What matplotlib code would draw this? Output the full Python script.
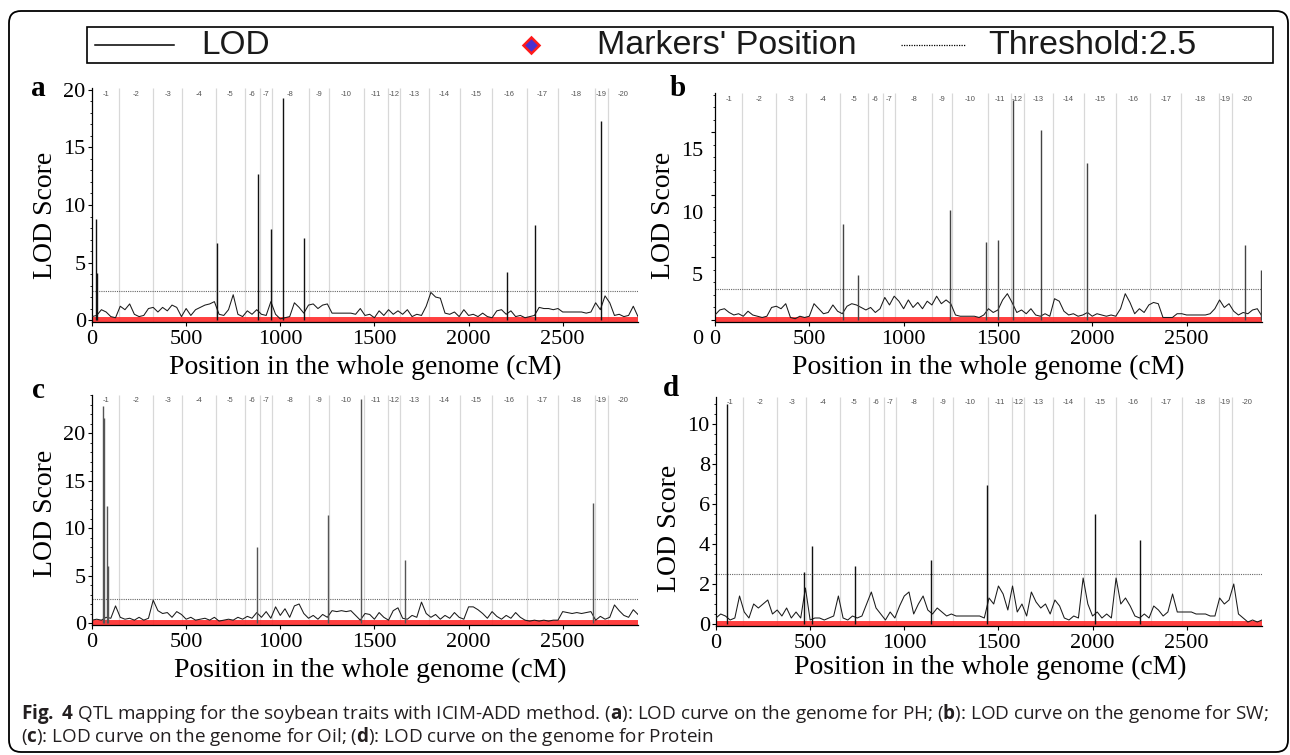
import matplotlib
matplotlib.use('Agg')
import matplotlib.pyplot as plt
from matplotlib.patches import FancyBboxPatch, Rectangle
from matplotlib.ticker import MultipleLocator
from matplotlib.transforms import ScaledTranslation

# ---- data ----
# sampling positions along the genome (cM)
POS = [0, 25, 50, 75, 100, 125, 150, 175, 200, 225, 250, 275, 300, 325, 350, 375, 400, 425,
       450, 475, 500, 525, 550, 575, 600, 625, 650, 675, 700, 725, 750, 775, 800, 825, 850,
       875, 900, 925, 950, 975, 1000, 1025, 1050, 1075, 1100, 1125, 1150, 1175, 1200, 1225,
       1250, 1275, 1300, 1325, 1350, 1375, 1400, 1425, 1450, 1475, 1500, 1525, 1550, 1575,
       1600, 1625, 1650, 1675, 1700, 1725, 1750, 1775, 1800, 1825, 1850, 1875, 1900, 1925,
       1950, 1975, 2000, 2025, 2050, 2075, 2100, 2125, 2150, 2175, 2200, 2225, 2250, 2275,
       2300, 2325, 2350, 2375, 2400, 2425, 2450, 2475, 2500, 2525, 2550, 2575, 2600, 2625,
       2650, 2675, 2700, 2725, 2750, 2775, 2800, 2825, 2850, 2875, 2900]

PH_LOD = [0.3, 0.4, 0.9, 0.7, 0.3, 0.2, 1.2, 0.9, 1.4, 0.5,
          0.3, 0.4, 1.0, 1.1, 0.7, 1.1, 0.8, 1.3, 1.1, 0.3,
          1.0, 0.4, 0.9, 1.1, 1.3, 1.4, 1.6, 0.5, 0.4, 0.9,
          2.2, 0.5, 0.3, 0.8, 0.5, 0.9, 0.5, 0.4, 1.6, 0.5,
          0.1, 0.2, 0.3, 1.5, 1.1, 0.6, 1.3, 1.4, 1.0, 1.3,
          1.4, 0.6, 0.6, 0.6, 0.6, 0.6, 0.5, 1.0, 0.4, 0.5,
          0.2, 0.8, 0.4, 0.9, 0.5, 0.8, 0.5, 0.9, 0.3, 0.5,
          0.4, 1.2, 2.4, 2.0, 1.9, 0.6, 0.5, 0.7, 0.3, 0.9,
          0.4, 0.5, 0.3, 0.6, 0.3, 0.2, 0.8, 0.9, 0.5, 0.8,
          0.3, 0.4, 0.2, 0.3, 0.4, 1.1, 1.0, 1.0, 0.9, 1.0,
          0.7, 0.7, 0.7, 0.7, 0.7, 0.6, 0.7, 1.5, 0.9, 2.1,
          1.5, 0.4, 0.5, 0.3, 0.4, 1.2, 0.3]

SW_LOD = [0.4, 0.8, 0.9, 0.6, 0.4, 0.5, 0.3, 0.7, 0.4, 0.3,
          0.2, 0.3, 1.0, 1.1, 0.9, 1.3, 0.2, 0.1, 0.3, 0.2,
          0.3, 1.3, 0.9, 0.5, 0.6, 1.2, 0.7, 0.5, 1.1, 1.3,
          1.2, 1.0, 0.8, 1.0, 0.6, 0.9, 1.8, 1.2, 1.9, 1.5,
          0.9, 1.6, 1.0, 1.4, 0.9, 1.5, 1.2, 1.9, 1.3, 1.6,
          1.3, 0.4, 0.3, 0.3, 0.3, 0.3, 0.2, 0.4, 0.9, 0.6,
          0.8, 1.6, 2.1, 1.4, 0.6, 0.8, 0.5, 0.9, 0.4, 0.3,
          0.5, 0.3, 1.7, 1.5, 0.7, 0.4, 0.5, 0.3, 0.4, 0.6,
          0.3, 0.5, 0.4, 0.3, 0.4, 0.3, 0.9, 2.1, 1.4, 0.5,
          0.9, 0.6, 1.2, 1.4, 1.3, 0.2, 0.2, 0.2, 0.5, 0.5,
          0.4, 0.4, 0.4, 0.4, 0.4, 0.5, 0.9, 1.6, 1.0, 1.3,
          0.7, 0.4, 0.6, 0.5, 0.8, 0.9, 0.3]

OIL_LOD = [0.3, 0.4, 0.3, 0.6, 0.5, 1.8, 0.6, 0.4, 0.5, 0.3,
           0.6, 0.3, 0.5, 2.4, 1.3, 1.0, 1.1, 0.6, 1.2, 0.9,
           0.4, 0.6, 0.3, 0.4, 0.5, 0.3, 0.6, 0.2, 0.3, 0.4,
           0.3, 0.6, 0.4, 0.7, 0.5, 1.1, 0.6, 1.2, 0.5, 1.7,
           0.8, 1.5, 0.6, 1.8, 2.0, 1.0, 0.5, 0.8, 0.4, 0.9,
           0.6, 1.3, 1.2, 1.3, 1.2, 1.3, 0.8, 0.3, 1.0, 0.9,
           0.4, 1.1, 0.6, 0.3, 1.3, 1.6, 0.5, 0.4, 0.8, 0.6,
           2.2, 1.0, 0.6, 0.9, 0.4, 0.8, 0.5, 1.1, 0.6, 0.4,
           1.7, 1.7, 1.4, 1.0, 0.5, 1.2, 0.7, 0.4, 0.8, 0.5,
           1.1, 0.6, 0.3, 0.2, 0.3, 0.2, 0.3, 0.2, 0.3, 0.3,
           1.2, 1.1, 1.0, 1.1, 1.0, 1.1, 1.2, 0.3, 0.7, 0.4,
           0.6, 1.9, 1.3, 0.8, 0.6, 1.4, 0.9]

PROTEIN_LOD = [0.3, 0.5, 0.4, 0.2, 0.3, 1.4, 0.6, 0.3, 1.0, 0.8,
               1.0, 1.2, 0.5, 0.7, 0.4, 0.8, 0.3, 0.6, 0.3, 1.8,
               0.2, 0.3, 0.3, 0.2, 0.3, 0.4, 1.4, 0.3, 0.2, 0.4,
               0.3, 0.4, 1.0, 1.6, 0.8, 0.5, 0.2, 0.6, 0.3, 0.9,
               1.4, 1.6, 0.5, 1.0, 1.4, 0.7, 0.5, 0.8, 0.6, 0.4,
               0.5, 0.4, 0.4, 0.4, 0.4, 0.4, 0.4, 0.3, 1.3, 1.0,
               1.9, 1.5, 0.7, 1.9, 0.6, 1.0, 0.4, 1.6, 1.1, 0.8,
               1.0, 0.5, 1.2, 0.9, 0.3, 0.2, 0.4, 0.3, 2.3, 1.0,
               0.4, 0.6, 0.3, 0.5, 0.3, 2.3, 1.0, 1.3, 0.9, 0.4,
               0.3, 0.5, 0.3, 0.9, 0.7, 0.4, 0.6, 1.5, 0.6, 0.6,
               0.6, 0.6, 0.5, 0.5, 0.5, 0.4, 0.4, 1.3, 1.0, 1.2,
               2.0, 0.5, 0.3, 0.1, 0.2, 0.1, 0.2]

# sharp QTL peaks (position cM, LOD)
PH_PEAK_POS = [22, 29, 665, 883, 953, 1015, 1125, 2204, 2352, 2704]
PH_PEAK_LOD = [8.8, 4.1, 6.7, 12.7, 7.9, 19.3, 7.1, 4.2, 8.3, 17.3]
SW_PEAK_POS = [681, 758, 1248, 1439, 1498, 1582, 1729, 1970, 2812, 2893]
SW_PEAK_LOD = [7.7, 3.6, 8.8, 6.25, 6.4, 17.6, 15.2, 12.5, 6.0, 4.0]
OIL_PEAK_POS = [57, 62, 79, 84, 876, 1251, 1427, 1663, 2660]
OIL_PEAK_LOD = [22.8, 21.6, 12.3, 6.0, 8.0, 11.4, 23.6, 6.6, 12.6]
PROTEIN_PEAK_POS = [59, 467, 511, 736, 1143, 1438, 2013, 2250]
PROTEIN_PEAK_LOD = [11.0, 2.6, 3.9, 2.9, 3.2, 6.95, 5.5, 4.2]

# chromosome boundaries (cM) and names
CHROM_BOUNDS = [0, 145, 326, 480, 661, 810, 892, 954, 1152, 1257, 1445, 1570, 1636,
                1790, 1955, 2125, 2308, 2473, 2671, 2742, 2900]
CHROM_NAMES = ['-%d' % i for i in range(1, 21)]

THRESHOLD = 2.5
XTICKS = [0, 500, 1000, 1500, 2000, 2500]

TRAITS = ['PH', 'SW', 'Oil', 'Protein']
LETTERS = ['a', 'b', 'c', 'd']
LODS = [PH_LOD, SW_LOD, OIL_LOD, PROTEIN_LOD]
PEAK_POS = [PH_PEAK_POS, SW_PEAK_POS, OIL_PEAK_POS, PROTEIN_PEAK_POS]
PEAK_LOD = [PH_PEAK_LOD, SW_PEAK_LOD, OIL_PEAK_LOD, PROTEIN_PEAK_LOD]

# ---- layout (pixels) ----
W, H = 1290, 755
SERIF = 'Liberation Serif'
SANS = 'Liberation Sans'

plt.rcParams['mathtext.fontset'] = 'custom'
plt.rcParams['mathtext.rm'] = 'Open Sans'
plt.rcParams['mathtext.bf'] = 'Open Sans:bold'

panels = [
    dict(box=(92, 88, 638, 322), ylim=(-0.17, 20.17), yticks=[0, 5, 10, 15, 20], minor=1,
         letter_xy=(38, 88), trait_xy=(101, 116), ylab=(45, 215), xlab=(365, 367),
         peak_color='#111111', label_shift=0, ypad=1.5),
    dict(box=(715, 93, 1262, 322), ylim=(-0.16, 18.12), yticks=[0, 5, 10, 15], minor=1,
         letter_xy=(678, 88), trait_xy=(725, 120), ylab=(663, 215), xlab=(988, 367),
         peak_color='#444444', label_shift=17, ypad=5.5),
    dict(box=(92, 395, 638, 625), ylim=(-0.21, 24.0), yticks=[0, 5, 10, 15, 20], minor=1,
         letter_xy=(38, 390), trait_xy=(124, 432), ylab=(45, 513), xlab=(370, 670),
         peak_color='#555555', label_shift=0, ypad=1.5),
    dict(box=(716, 397, 1262, 626), ylim=(-0.1, 11.35), yticks=[0, 2, 4, 6, 8, 10], minor=0.5,
         letter_xy=(671, 389), trait_xy=(741, 428), ylab=(670, 528), xlab=(990, 667),
         peak_color='#111111', label_shift=0, ypad=1.5),
]

fig = plt.figure(figsize=(W / 100, H / 100), dpi=100)

# background overlay in pixel coordinates (frame, legend, caption)
bg = fig.add_axes([0, 0, 1, 1])
bg.set_xlim(0, W)
bg.set_ylim(H, 0)
bg.axis('off')
bg.patch.set_alpha(0)

bg.add_patch(FancyBboxPatch((9, 11), 1279, 741, boxstyle='round,pad=0,rounding_size=12',
                            fc='none', ec='black', lw=1.3))

# legend box
bg.add_patch(Rectangle((87, 27), 1186, 36, fc='white', ec='black', lw=1.2))
bg.plot([95, 174], [45, 45], color='black', lw=1.1)
bg.text(201, 46, 'LOD', fontsize=24, family=SANS, color='#1a1a1a', va='center')
bg.plot([531], [45], marker='D', ms=8, mfc='#4a2fd0', mec='#ff1a1a', mew=1.8)
bg.text(597, 46, "Markers' Position", fontsize=24.5, family=SANS, color='#1a1a1a', va='center')
bg.plot([901, 965], [45, 45], color='black', lw=0.9, ls=(0, (1, 1)))
bg.text(988, 46, 'Threshold:2.5', fontsize=24.5, family=SANS, color='#1a1a1a', va='center')

for i, p in enumerate(panels):
    l, t, r, b = p['box']
    ax = fig.add_axes([l / W, 1 - b / H, (r - l) / W, (b - t) / H])
    ax.set_xlim(CHROM_BOUNDS[0], CHROM_BOUNDS[-1])
    ax.set_ylim(*p['ylim'])

    # chromosome separators and names
    ax.vlines(CHROM_BOUNDS[1:-1], p['ylim'][0], p['ylim'][1], color='#d8d8d8', lw=0.9, zorder=0)
    h = b - t
    for k, name in enumerate(CHROM_NAMES):
        mid = (CHROM_BOUNDS[k] + CHROM_BOUNDS[k + 1]) / 2
        ax.text(mid, 1 - 6 / h, name, transform=ax.get_xaxis_transform(), fontsize=5.5,
                family=SANS, color='#555555', ha='center', va='center')

    # markers band, threshold, LOD curve and peaks
    ax.plot([CHROM_BOUNDS[0], CHROM_BOUNDS[-1]], [0, 0], color='#ff2a2a', lw=5,
            solid_capstyle='butt', alpha=0.9, zorder=1)
    ax.axhline(THRESHOLD, color='#666666', lw=0.8, ls=(0, (1, 1)), zorder=2)
    ax.plot(POS, LODS[i], color='#1a1a1a', lw=0.75, zorder=3)
    ax.vlines(PEAK_POS[i], 0, PEAK_LOD[i], color=p['peak_color'], lw=1.0, zorder=3)

    # axes styling
    for s in ['top', 'right']:
        ax.spines[s].set_visible(False)
    ax.spines['left'].set_linewidth(0.9)
    ax.spines['bottom'].set_linewidth(0.9)
    ax.set_xticks(XTICKS)
    ax.set_yticks(p['yticks'])
    ax.yaxis.set_minor_locator(MultipleLocator(p['minor']))
    ax.tick_params(axis='both', which='major', length=3, width=0.8, labelsize=16)
    ax.tick_params(axis='both', which='minor', length=1.8, width=0.6)
    ax.tick_params(axis='x', pad=2.5)
    ax.tick_params(axis='y', pad=p['ypad'])
    for lab in ax.get_xticklabels() + ax.get_yticklabels():
        lab.set_family(SERIF)
    if p['label_shift']:
        off = ScaledTranslation(0, -p['label_shift'] / 100, fig.dpi_scale_trans)
        for tick in ax.yaxis.get_major_ticks():
            tick.label1.set_transform(tick.label1.get_transform() + off)

    ax.set_ylabel('LOD Score', fontsize=20, family=SERIF, va='center', ha='center')
    ax.yaxis.set_label_coords((p['ylab'][0] - l) / (r - l), (b - p['ylab'][1]) / h)
    ax.set_xlabel('Position in the whole genome (cM)', fontsize=20, family=SERIF,
                  va='center', ha='center')
    ax.xaxis.set_label_coords((p['xlab'][0] - l) / (r - l), (b - p['xlab'][1]) / h)

    bg.text(*p['trait_xy'], TRAITS[i], fontsize=19.5, family=SERIF, va='center', ha='left')
    bg.text(*p['letter_xy'], LETTERS[i], fontsize=21, family=SERIF, fontweight='bold',
            va='center', ha='center')

# caption
cap1 = (r'$\mathbf{Fig.}$ $\mathbf{4}$ QTL mapping for the soybean traits with ICIM-ADD method. '
        r'($\mathbf{a}$): LOD curve on the genome for PH; ($\mathbf{b}$): LOD curve on the genome for SW;')
cap2 = r'($\mathbf{c}$): LOD curve on the genome for Oil; ($\mathbf{d}$): LOD curve on the genome for Protein'
bg.text(21, 714, cap1, fontsize=13.6, family='Open Sans', color='#231f20', va='center')
bg.text(21, 736, cap2, fontsize=13.6, family='Open Sans', color='#231f20', va='center')

fig.savefig('out.png', dpi=100)
